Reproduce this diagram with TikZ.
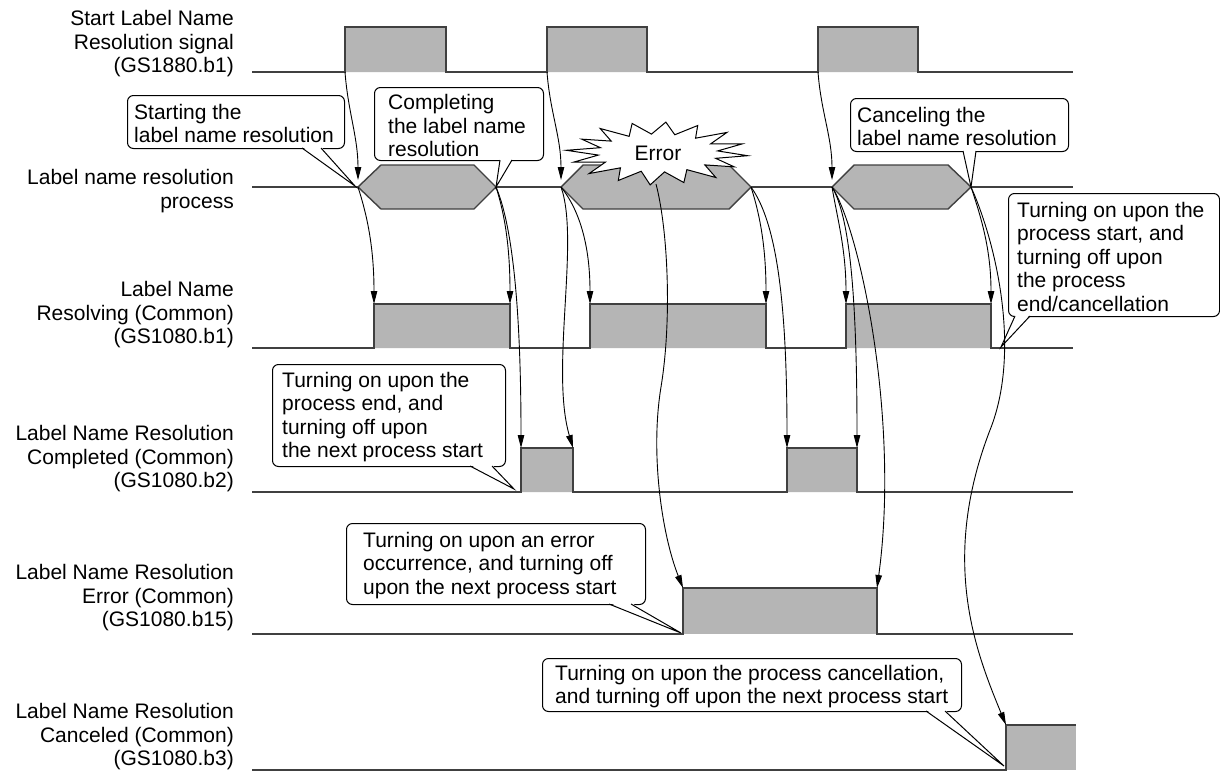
\documentclass[tikz,border=0pt]{standalone}
\usepackage{fontspec}
\setmainfont{Liberation Sans}
\usetikzlibrary{arrows.meta,calc}
\newcommand\lblfont{\fontsize{21pt}{23.5pt}\selectfont}
\newcommand\mkptr[4]{%
  \fill[white] (#1,#3-1.3) -- (#4) -- (#2,#3-1.3) -- cycle;
  \draw[ptr] (#1,#3) -- (#4) -- (#2,#3);}
\begin{document}
\begin{tikzpicture}[x=1pt,y=-1pt,
  sig/.style={line width=1.4pt, draw=black!75},
  pf/.style={fill=black!29},
  cbox/.style={draw=black, line width=1pt, fill=white, rounded corners=6pt, inner sep=0pt, anchor=north west},
  ctext/.style={inner sep=0pt, align=left, anchor=west, font=\lblfont},
  lab/.style={inner sep=0pt, align=right, anchor=east, font=\lblfont},
  arr/.style={-{Triangle[length=13pt,width=6.5pt]}, line width=0.9pt, draw=black},
  ptr/.style={draw=black, line width=1pt},
  burst/.style={draw=black, line width=1pt, fill=white}]
\useasboundingbox (0,0) rectangle (1220,771);
\fill[white] (0,0) rectangle (1220,771);

% ---------- left labels
\node[lab] (l1) at (234,44) {Start Label Name\\Resolution signal\\(GS1880.b1)};
\node[lab] (l2) at (234,191) {Label name resolution\\process};
\node[lab] (l3) at (234,315) {Label Name\\Resolving (Common)\\(GS1080.b1)};
\node[lab] (l4) at (234,459) {Label Name Resolution\\Completed (Common)\\(GS1080.b2)};
\node[lab] (l5) at (234,598) {Label Name Resolution\\Error (Common)\\(GS1080.b15)};
\node[lab] (l6) at (234,737) {Label Name Resolution\\Canceled (Common)\\(GS1080.b3)};

% ---------- signal 1
\fill[pf] (345,27) rectangle (446,72) (547,27) rectangle (647,72) (818,27) rectangle (918,72);
\draw[sig] (252,72) -- (345,72) -- (345,27) -- (446,27) -- (446,72) -- (547,72) -- (547,27) -- (647,27) -- (647,72)
  -- (818,72) -- (818,27) -- (918,27) -- (918,72) -- (1073,72);

% ---------- process
\draw[sig] (252,187) -- (1073,187);
\filldraw[sig,pf] (358,187) -- (381,165) -- (474,165) -- (496,187) -- (474,209) -- (381,209) -- cycle;
\filldraw[sig,pf] (561,187) -- (583,165) -- (729,165) -- (751,187) -- (729,209) -- (583,209) -- cycle;
\filldraw[sig,pf] (832,187) -- (854,165) -- (948,165) -- (971,187) -- (948,209) -- (854,209) -- cycle;

% ---------- resolving
\fill[pf] (374,304) rectangle (510,348) (590,304) rectangle (766,348) (846,304) rectangle (991,348);
\draw[sig] (252,348) -- (374,348) -- (374,304) -- (510,304) -- (510,348) -- (590,348) -- (590,304) -- (766,304) -- (766,348)
  -- (846,348) -- (846,304) -- (991,304) -- (991,348) -- (1073,348);

% ---------- completed
\fill[pf] (521,448) rectangle (573,492) (787,448) rectangle (857,492);
\draw[sig] (252,492) -- (521,492) -- (521,448) -- (573,448) -- (573,492) -- (787,492) -- (787,448) -- (857,448) -- (857,492) -- (1073,492);

% ---------- error
\fill[pf] (683,588) rectangle (877,634);
\draw[sig] (252,634) -- (683,634) -- (683,588) -- (877,588) -- (877,634) -- (1073,634);

% ---------- canceled
\fill[pf] (1006,725) rectangle (1076,770);
\draw[sig] (252,770) -- (1006,770) -- (1006,725) -- (1076,725);

% ---------- named points
\coordinate (S1) at (345,72);  \coordinate (S2) at (547,72);  \coordinate (S3) at (818,72);
\coordinate (H1L) at (358,187); \coordinate (H1R) at (496,187);
\coordinate (H2L) at (561,187); \coordinate (H2R) at (751,187);
\coordinate (H3L) at (832,187); \coordinate (H3R) at (971,187);
\coordinate (R1r) at (374,304); \coordinate (R1f) at (510,304);
\coordinate (R2r) at (590,304); \coordinate (R2f) at (766,304);
\coordinate (R3r) at (846,304); \coordinate (R3f) at (991,304);
\coordinate (C1r) at (521,448); \coordinate (C1f) at (573,448);
\coordinate (C2r) at (787,448); \coordinate (C2f) at (857,448);
\coordinate (E1r) at (683,588); \coordinate (E1f) at (877,588);
\coordinate (X1r) at (1006,725);
\coordinate (EC) at (658,153);  \coordinate (EB) at (656,184);
\coordinate (w9) at (661,387);  \coordinate (w16) at (990,430);

% ---------- callouts
\node[cbox, minimum width=217, minimum height=53] (cb1) at (127,95) {};
\node[ctext] (ct1) at (134,123.5) {Starting the\\label name resolution};
\coordinate (t1) at (355,186);
\mkptr{302}{321}{148}{t1}

\node[cbox, minimum width=169, minimum height=73] (cb2) at (374,87) {};
\node[ctext] (ct2) at (388,125.5) {Completing\\the label name\\resolution};
\coordinate (t2) at (496,187);
\mkptr{500}{512}{160}{t2}

\node[cbox, minimum width=218, minimum height=53] (cb3) at (850,98) {};
\node[ctext] (ct3) at (857,126.5) {Canceling the\\label name resolution};
\coordinate (t3) at (971,187);
\mkptr{963}{976}{151}{t3}

\node[cbox, minimum width=211, minimum height=123] (cb4) at (1008,193) {};
\node[ctext] (ct4) at (1017,256.5) {Turning on upon the\\process start, and\\turning off upon\\the process\\end/cancellation};
\coordinate (t4) at (1001,347);
\mkptr{1015}{1030}{316}{t4}

\node[cbox, minimum width=233, minimum height=102] (cb5) at (272,364) {};
\node[ctext] (ct5) at (282,417) {Turning on upon the\\process end, and\\turning off upon\\the next process start};
\coordinate (t5) at (514,489);
\mkptr{470}{492}{466}{t5}

\node[cbox, minimum width=299, minimum height=81] (cb6) at (346,523) {};
\node[ctext] (ct6) at (363,565.5) {Turning on upon an error\\occurrence, and turning off\\upon the next process start};
\coordinate (t6) at (681,633);
\mkptr{609}{631}{604}{t6}

\node[cbox, minimum width=419, minimum height=53] (cb7) at (542,658) {};
\node[ctext] (ct7) at (555,686.5) {Turning on upon the process cancellation,\\and turning off upon the next process start};
\coordinate (t7) at (1004,766);
\mkptr{926}{945}{711}{t7}

% ---------- error burst
\draw[burst] ($(EC)+({90*cos(5)},{31*sin(5)})$)
  \foreach \a/\rx/\ry in {16.25/60/19, 27.5/86/30, 38.75/60/19, 50/90/32, 61.25/60/19, 72.5/86/31, 83.75/60/19,
     95/90/32, 106.25/60/19, 117.5/86/31, 128.75/60/19, 140/90/32, 151.25/60/19, 162.5/88/30, 173.75/60/19,
     185/92/31, 196.25/60/19, 207.5/86/30, 218.75/60/19, 230/90/32, 241.25/60/19, 252.5/86/31, 263.75/60/19,
     275/90/31, 286.25/60/19, 297.5/86/31, 308.75/60/19, 320/90/32, 331.25/60/19, 342.5/88/30, 353.75/60/19}
  { -- ($(EC)+({\rx*cos(\a)},{\ry*sin(\a)})$) } -- cycle;
\node[inner sep=0pt, font=\lblfont] (errt) at (EC) {Error};

% ---------- arrows
\draw[arr, shorten >=7pt] (S1) .. controls +(3,40) and +(0,-50) .. (H1L);
\draw[arr, shorten >=7pt] (S2) .. controls +(3,40) and +(0,-50) .. (H2L);
\draw[arr, shorten >=7pt] (S3) .. controls +(3,40) and +(0,-50) .. (H3L);
\draw[arr] (H1L) .. controls +(8,25) and +(0,-60) .. (R1r);
\draw[arr] (H1R) .. controls +(8,25) and +(0,-60) .. (R1f);
\draw[arr] (H1R) .. controls +(15,35) and +(0,-150) .. (C1r);
\draw[arr] (H2L) .. controls +(20,25) and +(0,-55) .. (R2r);
\draw[arr] (H2L) .. controls +(19,53) and +(-23,-78) .. (C1f);
\draw[arr] (EB) .. controls +(12,46) and +(11,-67) .. (w9) .. controls +(-11,67) and +(-21,-53) .. (E1r);
\draw[arr] (H2R) .. controls +(8,25) and +(0,-60) .. (R2f);
\draw[arr] (H2R) .. controls +(25,35) and +(0,-150) .. (C2r);
\draw[arr] (H3L) .. controls +(5,30) and +(0,-55) .. (R3r);
\draw[arr] (H3L) .. controls +(18,30) and +(0,-150) .. (C2f);
\draw[arr] (H3L) .. controls +(28,43) and +(23,-168) .. (E1f);
\draw[arr] (H3R) .. controls +(10,30) and +(0,-55) .. (R3f);
\draw[arr] (H3R) .. controls +(24,53) and +(32,-80) .. (w16) .. controls +(-50,130) and +(-31,-75) .. (X1r);
\end{tikzpicture}
\end{document}
